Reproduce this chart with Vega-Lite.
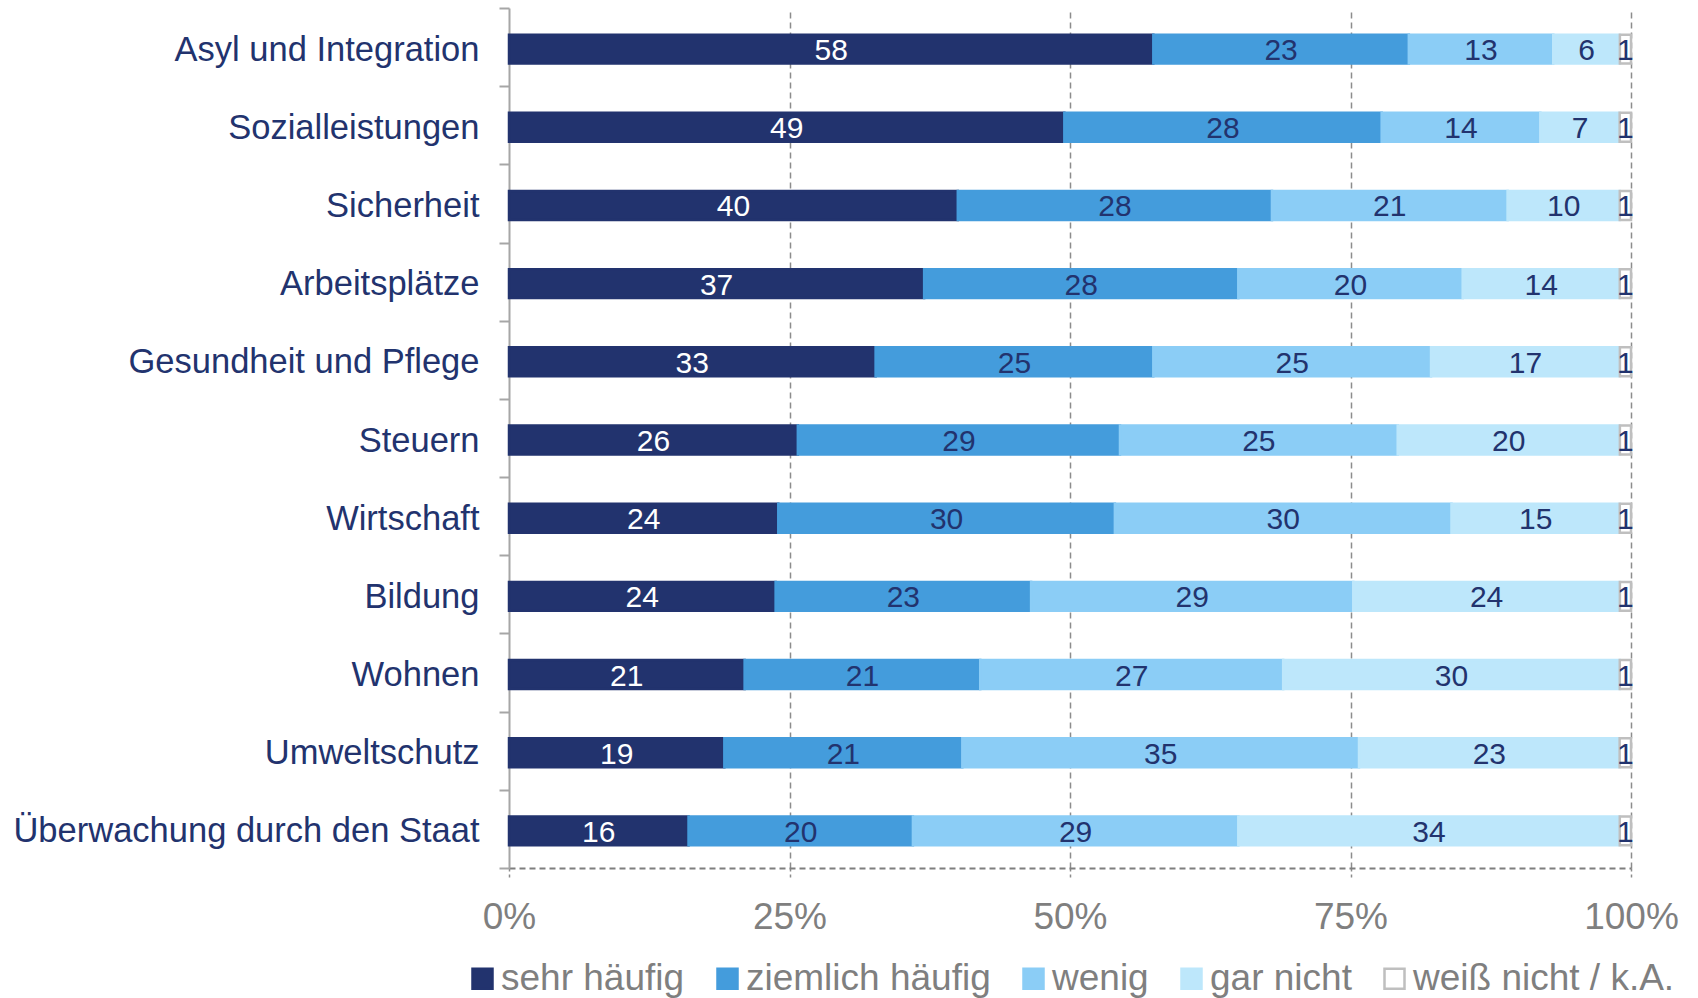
{
  "$schema": "https://vega.github.io/schema/vega-lite/v6.json",
  "width": 1122,
  "height": 860,
  "autosize": {"type": "none"},
  "padding": {"left": 509, "top": 8, "right": 67, "bottom": 130},
  "background": "white",
  "config": {
    "font": "Liberation Sans",
    "view": {"stroke": null}
  },
  "data": {
    "values": [
      {"thema": "Asyl und Integration", "antwort": "sehr häufig", "wert": 58},
      {"thema": "Asyl und Integration", "antwort": "ziemlich häufig", "wert": 23},
      {"thema": "Asyl und Integration", "antwort": "wenig", "wert": 13},
      {"thema": "Asyl und Integration", "antwort": "gar nicht", "wert": 6},
      {"thema": "Asyl und Integration", "antwort": "weiß nicht / k.A.", "wert": 1},
      {"thema": "Sozialleistungen", "antwort": "sehr häufig", "wert": 49},
      {"thema": "Sozialleistungen", "antwort": "ziemlich häufig", "wert": 28},
      {"thema": "Sozialleistungen", "antwort": "wenig", "wert": 14},
      {"thema": "Sozialleistungen", "antwort": "gar nicht", "wert": 7},
      {"thema": "Sozialleistungen", "antwort": "weiß nicht / k.A.", "wert": 1},
      {"thema": "Sicherheit", "antwort": "sehr häufig", "wert": 40},
      {"thema": "Sicherheit", "antwort": "ziemlich häufig", "wert": 28},
      {"thema": "Sicherheit", "antwort": "wenig", "wert": 21},
      {"thema": "Sicherheit", "antwort": "gar nicht", "wert": 10},
      {"thema": "Sicherheit", "antwort": "weiß nicht / k.A.", "wert": 1},
      {"thema": "Arbeitsplätze", "antwort": "sehr häufig", "wert": 37},
      {"thema": "Arbeitsplätze", "antwort": "ziemlich häufig", "wert": 28},
      {"thema": "Arbeitsplätze", "antwort": "wenig", "wert": 20},
      {"thema": "Arbeitsplätze", "antwort": "gar nicht", "wert": 14},
      {"thema": "Arbeitsplätze", "antwort": "weiß nicht / k.A.", "wert": 1},
      {"thema": "Gesundheit und Pflege", "antwort": "sehr häufig", "wert": 33},
      {"thema": "Gesundheit und Pflege", "antwort": "ziemlich häufig", "wert": 25},
      {"thema": "Gesundheit und Pflege", "antwort": "wenig", "wert": 25},
      {"thema": "Gesundheit und Pflege", "antwort": "gar nicht", "wert": 17},
      {"thema": "Gesundheit und Pflege", "antwort": "weiß nicht / k.A.", "wert": 1},
      {"thema": "Steuern", "antwort": "sehr häufig", "wert": 26},
      {"thema": "Steuern", "antwort": "ziemlich häufig", "wert": 29},
      {"thema": "Steuern", "antwort": "wenig", "wert": 25},
      {"thema": "Steuern", "antwort": "gar nicht", "wert": 20},
      {"thema": "Steuern", "antwort": "weiß nicht / k.A.", "wert": 1},
      {"thema": "Wirtschaft", "antwort": "sehr häufig", "wert": 24},
      {"thema": "Wirtschaft", "antwort": "ziemlich häufig", "wert": 30},
      {"thema": "Wirtschaft", "antwort": "wenig", "wert": 30},
      {"thema": "Wirtschaft", "antwort": "gar nicht", "wert": 15},
      {"thema": "Wirtschaft", "antwort": "weiß nicht / k.A.", "wert": 1},
      {"thema": "Bildung", "antwort": "sehr häufig", "wert": 24},
      {"thema": "Bildung", "antwort": "ziemlich häufig", "wert": 23},
      {"thema": "Bildung", "antwort": "wenig", "wert": 29},
      {"thema": "Bildung", "antwort": "gar nicht", "wert": 24},
      {"thema": "Bildung", "antwort": "weiß nicht / k.A.", "wert": 1},
      {"thema": "Wohnen", "antwort": "sehr häufig", "wert": 21},
      {"thema": "Wohnen", "antwort": "ziemlich häufig", "wert": 21},
      {"thema": "Wohnen", "antwort": "wenig", "wert": 27},
      {"thema": "Wohnen", "antwort": "gar nicht", "wert": 30},
      {"thema": "Wohnen", "antwort": "weiß nicht / k.A.", "wert": 1},
      {"thema": "Umweltschutz", "antwort": "sehr häufig", "wert": 19},
      {"thema": "Umweltschutz", "antwort": "ziemlich häufig", "wert": 21},
      {"thema": "Umweltschutz", "antwort": "wenig", "wert": 35},
      {"thema": "Umweltschutz", "antwort": "gar nicht", "wert": 23},
      {"thema": "Umweltschutz", "antwort": "weiß nicht / k.A.", "wert": 1},
      {"thema": "Überwachung durch den Staat", "antwort": "sehr häufig", "wert": 16},
      {"thema": "Überwachung durch den Staat", "antwort": "ziemlich häufig", "wert": 20},
      {"thema": "Überwachung durch den Staat", "antwort": "wenig", "wert": 29},
      {"thema": "Überwachung durch den Staat", "antwort": "gar nicht", "wert": 34},
      {"thema": "Überwachung durch den Staat", "antwort": "weiß nicht / k.A.", "wert": 1}
    ]
  },
  "transform": [
    {"calculate": "indexof(['sehr häufig','ziemlich häufig','wenig','gar nicht','weiß nicht / k.A.'], datum.antwort)", "as": "rang"},
    {"stack": "wert", "groupby": ["thema"], "sort": [{"field": "rang", "order": "ascending"}], "offset": "normalize", "as": ["x0", "x1"]},
    {"calculate": "(datum.x0 + datum.x1) / 2", "as": "xmid"}
  ],
  "encoding": {
    "y": {
      "field": "thema",
      "type": "nominal",
      "sort": null,
      "title": null,
      "scale": {"paddingInner": 0, "paddingOuter": 0},
      "axis": {
        "orient": "left",
        "domain": true,
        "domainColor": "#A6A6A6",
        "domainWidth": 2,
        "ticks": true,
        "tickBand": "extent",
        "tickSize": 10,
        "tickColor": "#A6A6A6",
        "tickWidth": 2,
        "labelFontSize": 34.5,
        "labelColor": "#22336E",
        "labelPadding": 20,
        "labelOffset": 3,
        "labelLimit": 600,
        "grid": false
      }
    }
  },
  "layer": [
    {
      "mark": {"type": "bar", "strokeWidth": 2.5, "height": {"band": 0.37}, "yOffset": 2},
      "encoding": {
        "x": {
          "field": "x0",
          "type": "quantitative",
          "title": null,
          "scale": {"domain": [0, 1], "nice": false, "zero": true},
          "axis": {
            "values": [0, 0.25, 0.5, 0.75, 1],
            "format": ".0%",
            "grid": true,
            "gridDash": [6, 4],
            "gridWidth": 1.5,
            "gridColor": {"condition": {"test": "datum.value === 0", "value": "#FFFFFF"}, "value": "#8C8C8C"},
            "domain": true,
            "domainColor": "#7F7F7F",
            "domainDash": [6, 4],
            "domainWidth": 2,
            "ticks": true,
            "tickSize": 9,
            "tickDash": [3, 3],
            "tickColor": "#8C8C8C",
            "tickWidth": 1.5,
            "labelFontSize": 37,
            "labelColor": "#7F7F7F",
            "labelPadding": 22,
            "labelFlush": false
          }
        },
        "x2": {"field": "x1"},
        "fill": {
          "field": "antwort",
          "type": "nominal",
          "title": null,
          "scale": {
            "domain": ["sehr häufig", "ziemlich häufig", "wenig", "gar nicht", "weiß nicht / k.A."],
            "range": ["#22336E", "#449CDC", "#8BCDF6", "#BDE7FB", "#FFFFFF"]
          },
          "legend": {
            "orient": "none",
            "direction": "horizontal",
            "legendX": -45,
            "legendY": 952,
            "symbolType": "square",
            "symbolSize": 400,
            "symbolStrokeWidth": 2.5,
            "labelFontSize": 37,
            "labelColor": "#7F7F7F",
            "labelOffset": 0,
            "columnPadding": 24,
            "labelLimit": 600,
            "padding": 0
          }
        },
        "stroke": {
          "field": "antwort",
          "type": "nominal",
          "title": null,
          "scale": {
            "domain": ["sehr häufig", "ziemlich häufig", "wenig", "gar nicht", "weiß nicht / k.A."],
            "range": ["#22336E", "#449CDC", "#8BCDF6", "#BDE7FB", "#BFBFBF"]
          },
          "legend": {
            "orient": "none",
            "direction": "horizontal",
            "legendX": -45,
            "legendY": 952,
            "symbolType": "square",
            "symbolSize": 400,
            "symbolStrokeWidth": 2.5,
            "labelFontSize": 37,
            "labelColor": "#7F7F7F",
            "labelOffset": 0,
            "columnPadding": 24,
            "labelLimit": 600,
            "padding": 0
          }
        }
      }
    },
    {
      "mark": {"type": "text", "fontSize": 30, "baseline": "middle", "align": "center", "dy": 2, "yOffset": 2},
      "encoding": {
        "x": {"field": "xmid", "type": "quantitative"},
        "text": {"field": "wert", "type": "quantitative"},
        "color": {
          "condition": {"test": "datum.antwort === 'sehr häufig'", "value": "#FFFFFF"},
          "value": "#22336E"
        }
      }
    }
  ]
}
